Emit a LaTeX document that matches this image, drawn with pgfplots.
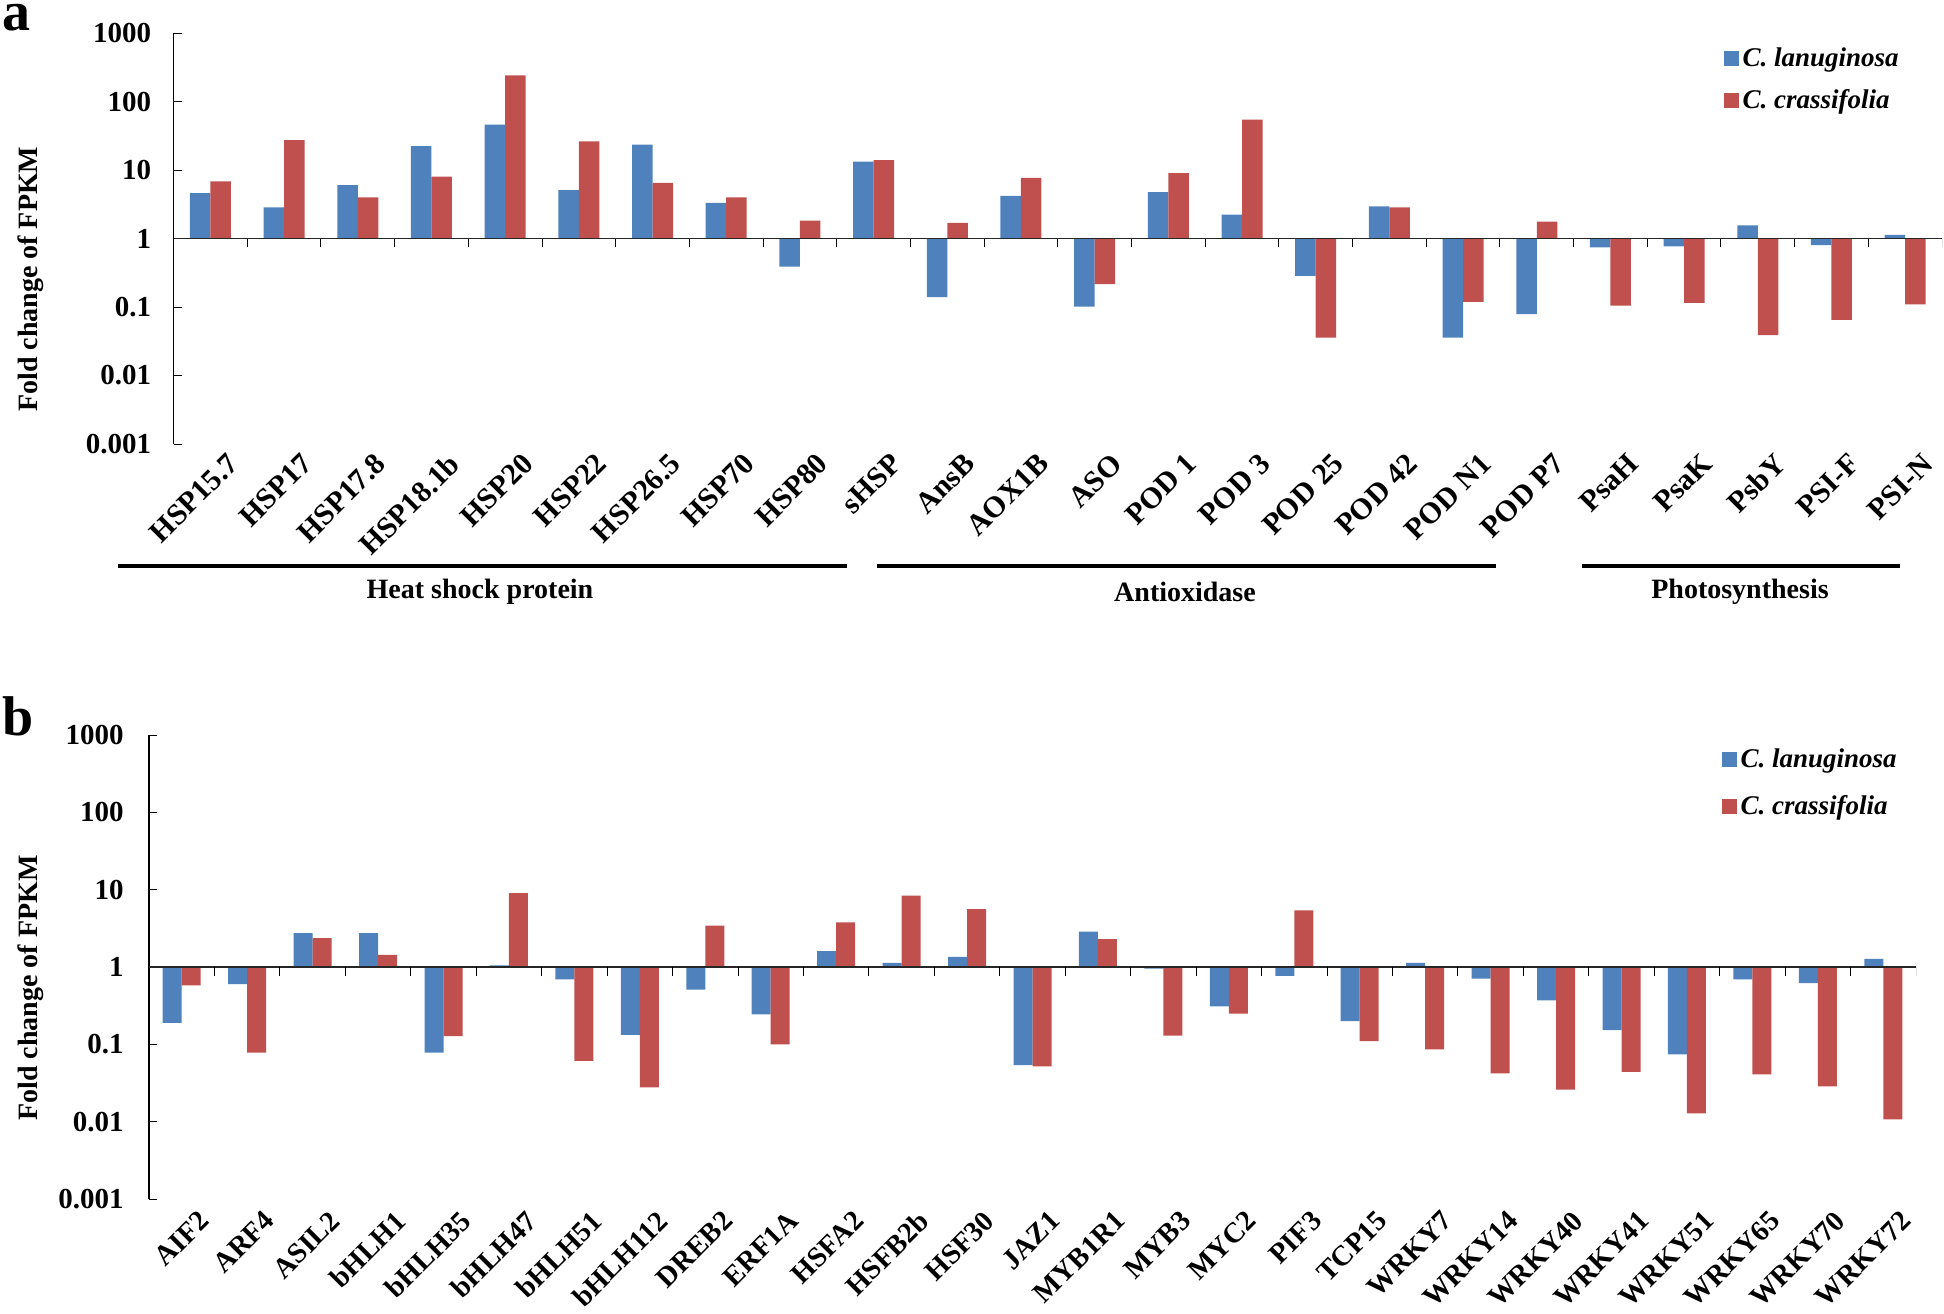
\documentclass[border=0pt]{standalone}
\usepackage{fontspec}
\setmainfont{Liberation Serif}
\usepackage{pgfplots}
\usepackage{pgfplotstable}
\pgfplotsset{compat=1.18}

\definecolor{lanu}{HTML}{4F81BD}
\definecolor{cras}{HTML}{C0504D}

% panel a: fold change, C. lanuginosa (lan) and C. crassifolia (cra)
\pgfplotstableread{
x lan cra
0 4.6 6.8
1 2.84 27.3
2 6.0 4.0
3 22.4 8.0
4 45.8 241
5 5.1 26.1
6 23.4 6.5
7 3.3 4.0
8 0.39 1.83
9 13.3 14.0
10 0.14 1.69
11 4.2 7.7
12 0.101 0.215
13 4.75 9.0
14 2.24 54.2
15 0.285 0.0357
16 2.94 2.84
17 0.0357 0.119
18 0.079 1.77
19 0.74 0.105
20 0.77 0.115
21 1.55 0.039
22 0.80 0.065
23 1.13 0.109
}\tabA

% panel b
\pgfplotstableread{
x lan cra
0 0.19 0.58
1 0.60 0.078
2 2.75 2.37
3 2.75 1.44
4 0.078 0.128
5 1.05 9.05
6 0.69 0.061
7 0.133 0.0278
8 0.51 3.42
9 0.245 0.10
10 1.61 3.78
11 1.13 8.36
12 1.35 5.62
13 0.054 0.052
14 2.86 2.30
15 0.95 0.13
16 0.31 0.25
17 0.77 5.4
18 0.20 0.11
19 1.13 0.086
20 0.71 0.042
21 0.37 0.026
22 0.153 0.044
23 0.074 0.0128
24 0.69 0.041
25 0.62 0.0286
26 1.27 0.0107
}\tabB

\newcommand{\bfsz}[1]{\bfseries\fontsize{#1}{#1}\selectfont}

\begin{document}
\begin{tikzpicture}
\useasboundingbox (0,0) rectangle (972pt,-656.5pt);

% ---------- panel a ----------
\begin{axis}[
  scale only axis, at={(86.8pt,-222pt)}, anchor=south west,
  width=884.2pt, height=205.5pt,
  ybar=0pt, bar width=10.25pt, ymode=log, log origin=0,
  ymin=0.001, ymax=1000, xmin=-0.5, xmax=23.5,
  axis lines*=left, x axis line style={draw=none},
  y axis line style={line width=0.6pt},
  xtick style={draw=none}, ytick style={black, line width=0.5pt},
  tick align=inside, major tick length=4pt, yminorticks=false,
  ytick={0.001,0.01,0.1,1,10,100,1000},
  yticklabels={0.001,0.01,0.1,1,10,100,1000},
  yticklabel style={font=\bfsz{14.5}, inner sep=0pt, xshift=-11pt},
  xtick={0,...,23},
  xticklabels={HSP15.7,HSP17,HSP17.8,HSP18.1b,HSP20,HSP22,HSP26.5,HSP70,HSP80,sHSP,AnsB,AOX1B,ASO,POD 1,POD 3,POD 25,POD 42,POD N1,POD P7,PsaH,PsaK,PsbY,PSI-F,PSI-N},
  xticklabel style={font=\bfsz{15}, rotate=45, anchor=north east, inner sep=0pt, xshift=3pt, yshift=-8pt},
  ylabel={Fold change of FPKM},
  ylabel style={font=\bfsz{14}, anchor=center, at={(axis description cs:-0.0806,0.401)}},
  legend cell align=left,
  legend image code/.code={\fill[#1] (0pt,-3.6pt) rectangle (7.3pt,3.6pt);},
  legend style={draw=none, fill=none, inner sep=0pt, row sep=6pt,
    font=\bfseries\itshape\fontsize{13.5}{15}\selectfont,
    at={(rel axis cs:0.8765,0.975)}, anchor=north west},
]
\addplot[fill=lanu, draw=none] table[x=x, y=lan] {\tabA};
\addplot[fill=cras, draw=none] table[x=x, y=cra] {\tabA};
\addlegendentry{C. lanuginosa}
\addlegendentry{C. crassifolia}
\draw[black!85, line width=0.9pt] (axis cs:-0.5,1) -- (axis cs:23.5,1);
\pgfplotsinvokeforeach{0.5,1.5,...,23.5}{\draw[black, line width=0.5pt] (axis cs:#1,1) -- ++(0pt,-4.3pt);}
\end{axis}

% category groups under panel a
\draw[line width=2pt] (59pt,-283pt) -- (423.5pt,-283pt);
\draw[line width=2pt] (438.5pt,-283pt) -- (748pt,-283pt);
\draw[line width=2pt] (791pt,-283pt) -- (950pt,-283pt);
\node[font=\bfsz{14}] at (240pt,-296pt) {Heat shock protein};
\node[font=\bfsz{14}] at (592.5pt,-296pt) {Antioxidase};
\node[font=\bfsz{14}] at (870pt,-296pt) {Photosynthesis};

% ---------- panel b ----------
\begin{axis}[
  scale only axis, at={(74.5pt,-599.5pt)}, anchor=south west,
  width=883.5pt, height=232pt,
  ybar=0pt, bar width=9.5pt, ymode=log, log origin=0,
  ymin=0.001, ymax=1000, xmin=-0.5, xmax=26.5,
  axis lines*=left, x axis line style={draw=none},
  y axis line style={line width=0.6pt},
  xtick style={draw=none}, ytick style={black, line width=0.5pt},
  tick align=inside, major tick length=4pt, yminorticks=false,
  ytick={0.001,0.01,0.1,1,10,100,1000},
  yticklabels={0.001,0.01,0.1,1,10,100,1000},
  yticklabel style={font=\bfsz{14.5}, inner sep=0pt, xshift=-12.5pt},
  xtick={0,...,26},
  xticklabels={AIF2,ARF4,ASIL2,bHLH1,bHLH35,bHLH47,bHLH51,bHLH112,DREB2,ERF1A,HSFA2,HSFB2b,HSF30,JAZ1,MYB1R1,MYB3,MYC2,PIF3,TCP15,WRKY7,WRKY14,WRKY40,WRKY41,WRKY51,WRKY65,WRKY70,WRKY72},
  xticklabel style={font=\bfsz{14.3}, rotate=45, anchor=north east, inner sep=0pt, xshift=2pt, yshift=-9pt},
  ylabel={Fold change of FPKM},
  ylabel style={font=\bfsz{14}, anchor=center, at={(axis description cs:-0.0668,0.455)}},
  legend cell align=left,
  legend image code/.code={\fill[#1] (0pt,-3.6pt) rectangle (7.3pt,3.6pt);},
  legend style={draw=none, fill=none, inner sep=0pt, row sep=8.5pt,
    font=\bfseries\itshape\fontsize{13.5}{15}\selectfont,
    at={(rel axis cs:0.890,0.98)}, anchor=north west},
]
\addplot[fill=lanu, draw=none] table[x=x, y=lan] {\tabB};
\addplot[fill=cras, draw=none] table[x=x, y=cra] {\tabB};
\addlegendentry{C. lanuginosa}
\addlegendentry{C. crassifolia}
\draw[black!85, line width=0.9pt] (axis cs:-0.5,1) -- (axis cs:26.5,1);
\pgfplotsinvokeforeach{0.5,1.5,...,26.5}{\draw[black, line width=0.5pt] (axis cs:#1,1) -- ++(0pt,-4.3pt);}
\end{axis}

% panel letters
\node[anchor=base west, inner sep=0pt, font=\bfsz{28}] at (1pt,-15pt) {a};
\node[anchor=base west, inner sep=0pt, font=\bfsz{28}] at (1pt,-367.5pt) {b};
\end{tikzpicture}
\end{document}
